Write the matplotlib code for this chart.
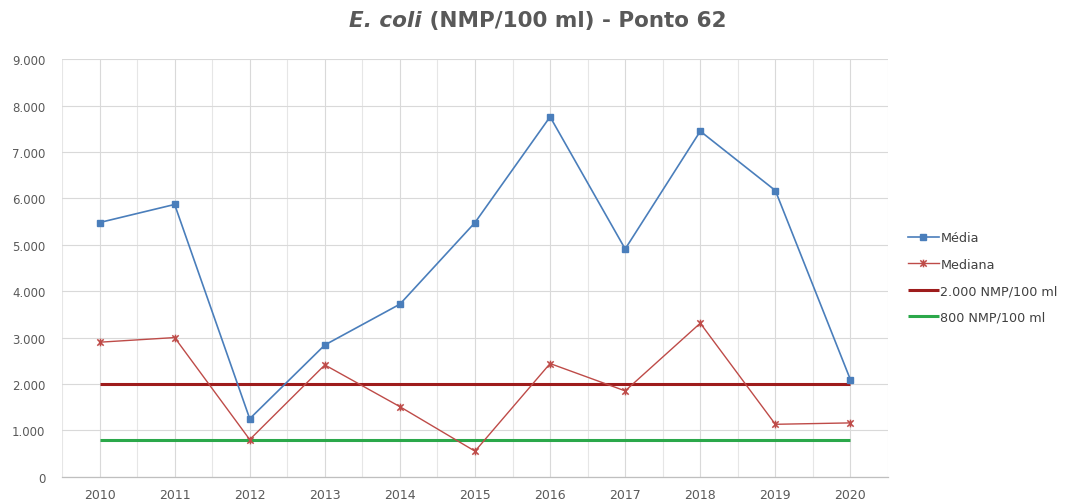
import matplotlib
matplotlib.use("Agg")
import matplotlib.pyplot as plt
from matplotlib.path import Path
from matplotlib.ticker import FuncFormatter, MultipleLocator

years = ["2010", "2011", "2012", "2013", "2014", "2015", "2016", "2017", "2018", "2019", "2020"]
media = [5480, 5870, 1250, 2840, 3720, 5480, 7760, 4910, 7450, 6170, 2090]
mediana = [2900, 3000, 800, 2410, 1510, 550, 2440, 1850, 3310, 1130, 1160]
limite_2000 = [2000] * len(years)
limite_800 = [800] * len(years)

plt.rcParams['font.family'] = ['DejaVu Sans']

W, H = 1065, 502
fig = plt.figure(figsize=(W / 100, H / 100), dpi=100)
ax = fig.add_axes([62 / W, 1 - 477.7 / H, 826 / W, 417.4 / H])

x = list(range(len(years)))

star = Path([(-1, -1), (1, 1), (-1, 1), (1, -1), (0, -1.2), (0, 1.2)],
            [Path.MOVETO, Path.LINETO, Path.MOVETO, Path.LINETO, Path.MOVETO, Path.LINETO])

h3, = ax.plot(x, limite_2000, color="#9E1C1C", lw=2.2, label="2.000 NMP/100 ml", zorder=3,
              solid_capstyle='butt')
h4, = ax.plot(x, limite_800, color="#2BA84A", lw=2.2, label="800 NMP/100 ml", zorder=3,
              solid_capstyle='butt')
h1, = ax.plot(x, media, color="#4A7EBB", lw=1.2, marker="s", ms=4.5, mfc="#4A7EBB", mec="#4A7EBB",
              label="Média", zorder=4)
h2, = ax.plot(x, mediana, color="#BE4B48", lw=1.0, marker=star, ms=5.5, mfc="none", mec="#BE4B48",
              mew=1.1, label="Mediana", zorder=4)

ax.set_xlim(-0.5, len(years) - 0.5)
ax.set_ylim(0, 9000)
ax.yaxis.set_major_locator(MultipleLocator(1000))
ax.yaxis.set_major_formatter(FuncFormatter(lambda v, p: f"{int(v):,}".replace(",", ".")))
ax.set_xticks(x)
ax.set_xticklabels(years)
ax.set_xticks([i + 0.5 for i in range(-1, len(years))], minor=True)

ax.grid(True, which="major", axis="both", color="#D9D9D9", lw=0.8)
ax.grid(True, which="minor", axis="x", color="#E6E6E6", lw=0.8)
ax.set_axisbelow(True)

for s in ["top", "right", "left"]:
    ax.spines[s].set_visible(False)
ax.spines["bottom"].set_color("#BFBFBF")
ax.spines["bottom"].set_linewidth(0.9)

ax.tick_params(axis="both", which="both", length=0, colors="#595959")
ax.tick_params(axis="y", pad=12, labelsize=8.5)
ax.tick_params(axis="x", pad=8, labelsize=9)

handles = [h1, h2, h3, h4]
ax.legend(handles=handles, labels=[h.get_label() for h in handles],
          loc="upper left", bbox_to_anchor=(1.024, 0.588), frameon=False,
          fontsize=9.2, labelcolor="#404040", handlelength=2.45, handletextpad=0.1,
          labelspacing=1.05, borderaxespad=0, borderpad=0)

# Title: italic part + regular bold part, centred as a whole
title_y = 1 - 27 / H
t1 = fig.text(0, title_y, "E. coli", fontsize=15.5, fontweight="bold", fontstyle="italic",
              color="#595959", ha="left", va="baseline")
t2 = fig.text(0, title_y, " (NMP/100 ml) - Ponto 62", fontsize=15.5, fontweight="bold",
              color="#595959", ha="left", va="baseline")
fig.canvas.draw()
r = fig.canvas.get_renderer()
w1 = t1.get_window_extent(r).width
w2 = t2.get_window_extent(r).width
start = 538 - (w1 + w2) / 2
t1.set_x(start / W)
t2.set_x((start + w1) / W)

fig.savefig("out.png", dpi=100, facecolor="white")
